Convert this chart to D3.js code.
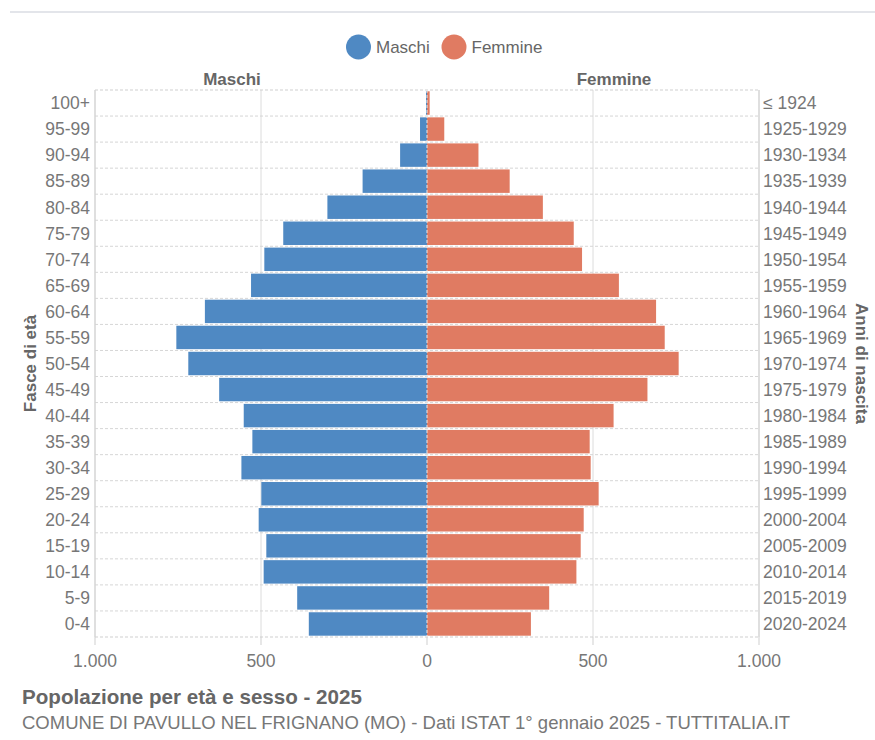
<!DOCTYPE html>
<html lang="it">
<head>
<meta charset="UTF-8">
<script src="https://d3js.org/d3.v7.min.js"></script>
<style>
  body { margin: 0; background: #fff; }
  text { font-family: "Liberation Sans", Arial, sans-serif; }
</style>
</head>
<body>
<svg id="chart" width="875" height="740"></svg>
<script>
// fasce di età (dall'alto in basso)
const fasce = ["100+", "95-99", "90-94", "85-89", "80-84", "75-79", "70-74", "65-69", "60-64", "55-59",
  "50-54", "45-49", "40-44", "35-39", "30-34", "25-29", "20-24", "15-19", "10-14", "5-9", "0-4"];
const anni = ["≤ 1924", "1925-1929", "1930-1934", "1935-1939", "1940-1944", "1945-1949", "1950-1954",
  "1955-1959", "1960-1964", "1965-1969", "1970-1974", "1975-1979", "1980-1984", "1985-1989",
  "1990-1994", "1995-1999", "2000-2004", "2005-2009", "2010-2014", "2015-2019", "2020-2024"];
const maschi = [3, 21, 81, 194, 300, 433, 490, 530, 669, 755, 719, 626, 552, 526, 559, 499, 507, 484, 492, 391, 356];
const femmine = [8, 52, 155, 249, 349, 442, 467, 578, 690, 716, 758, 664, 562, 490, 493, 517, 472, 463, 450, 368, 313];
const xTicks = [-1000, -500, 0, 500, 1000];

const colM = "#4f89c3", colF = "#e07b62";
const W = 875, H = 740;
const m = { top: 90, bottom: 637, left: 95, right: 759 };

const svg = d3.select("#chart");

// linea separatrice in alto
svg.append("line").attr("x1", 10).attr("x2", W).attr("y1", 12).attr("y2", 12)
  .attr("stroke", "#e3e5ea").attr("stroke-width", 2);

const x = d3.scaleLinear().domain([-1000, 1000]).range([m.left, m.right]);
const y = d3.scaleBand().domain(fasce).range([m.top, m.bottom]).paddingInner(0.1).paddingOuter(0.05);
const yRow = d3.scaleBand().domain(fasce).range([m.top, m.bottom]);

// griglia verticale
svg.append("g").selectAll("line").data([-500, 500]).enter().append("line")
  .attr("x1", d => x(d)).attr("x2", d => x(d)).attr("y1", m.top).attr("y2", m.bottom)
  .attr("stroke", "#dcdcdc");

// griglia orizzontale tratteggiata
svg.append("g").selectAll("line").data(fasce.slice(1)).enter().append("line")
  .attr("x1", m.left).attr("x2", m.right)
  .attr("y1", d => yRow(d)).attr("y2", d => yRow(d))
  .attr("stroke", "#d6d6d6").attr("stroke-dasharray", "3,2");

// bordo
svg.append("line").attr("x1", m.left).attr("x2", m.right).attr("y1", m.top).attr("y2", m.top)
  .attr("stroke", "#cfcfcf").attr("stroke-dasharray", "3,2");
svg.append("line").attr("x1", m.left).attr("x2", m.right).attr("y1", m.bottom).attr("y2", m.bottom)
  .attr("stroke", "#cfcfcf").attr("stroke-dasharray", "3,2");
[m.left, m.right].forEach(px => {
  svg.append("line").attr("x1", px).attr("x2", px).attr("y1", m.top).attr("y2", m.bottom)
    .attr("stroke", "#d4d4d4").attr("stroke-width", 1.5);
});

// barre
svg.append("g").selectAll("rect").data(fasce).enter().append("rect")
  .attr("x", (d, i) => x(-maschi[i]))
  .attr("width", (d, i) => x(0) - x(-maschi[i]))
  .attr("y", d => y(d)).attr("height", y.bandwidth())
  .attr("fill", colM);
svg.append("g").selectAll("rect").data(fasce).enter().append("rect")
  .attr("x", x(0))
  .attr("width", (d, i) => x(femmine[i]) - x(0))
  .attr("y", d => y(d)).attr("height", y.bandwidth())
  .attr("fill", colF);

// linea dello zero
svg.append("line").attr("x1", x(0)).attr("x2", x(0)).attr("y1", m.top).attr("y2", m.bottom)
  .attr("stroke", "#e8e8e8").attr("stroke-dasharray", "3,2");

// etichette fasce (sinistra) e anni (destra)
svg.append("g").selectAll("text").data(fasce).enter().append("text")
  .attr("x", m.left - 5).attr("y", d => yRow(d) + yRow.bandwidth() / 2)
  .attr("dy", "0.36em").attr("text-anchor", "end")
  .attr("fill", "#777").style("font-size", "17.5px").text(d => d);
svg.append("g").selectAll("text").data(fasce).enter().append("text")
  .attr("x", m.right + 4).attr("y", d => yRow(d) + yRow.bandwidth() / 2)
  .attr("dy", "0.36em").attr("text-anchor", "start")
  .attr("fill", "#777").style("font-size", "17.5px").text((d, i) => anni[i]);

// asse x
const gx = svg.append("g").attr("transform", `translate(0,${m.bottom})`);
gx.selectAll("line").data(xTicks).enter().append("line")
  .attr("x1", d => x(d)).attr("x2", d => x(d)).attr("y1", 0).attr("y2", 8)
  .attr("stroke", "#cfcfcf");
gx.selectAll("text").data(xTicks).enter().append("text")
  .attr("x", d => x(d)).attr("y", 30).attr("text-anchor", "middle")
  .attr("fill", "#777").style("font-size", "17.5px")
  .text(d => d3.format(",")(Math.abs(d)).replace(",", "."));

// titoli assi
svg.append("text").attr("transform", `translate(36,${(m.top + m.bottom) / 2}) rotate(-90)`)
  .attr("text-anchor", "middle").attr("fill", "#666").style("font-size", "17px")
  .style("font-weight", "bold").text("Fasce di età");
svg.append("text").attr("transform", `translate(856,${(m.top + m.bottom) / 2}) rotate(90)`)
  .attr("text-anchor", "middle").attr("fill", "#666").style("font-size", "17px")
  .style("font-weight", "bold").text("Anni di nascita");

// intestazioni
svg.append("text").attr("x", 232).attr("y", 85).attr("text-anchor", "middle")
  .attr("fill", "#666").style("font-size", "17px").style("font-weight", "bold").text("Maschi");
svg.append("text").attr("x", 614).attr("y", 85).attr("text-anchor", "middle")
  .attr("fill", "#666").style("font-size", "17px").style("font-weight", "bold").text("Femmine");

// legenda
const leg = [["Maschi", colM, 358.5], ["Femmine", colF, 454]];
leg.forEach(([lab, c, cx]) => {
  svg.append("circle").attr("cx", cx).attr("cy", 47).attr("r", 12.5).attr("fill", c);
  svg.append("text").attr("x", cx + 17.5).attr("y", 47).attr("dy", "0.36em")
    .attr("fill", "#666").style("font-size", "17px").text(lab);
});

// titolo e sottotitolo
svg.append("text").attr("x", 22).attr("y", 704).attr("fill", "#666")
  .style("font-size", "20.6px").style("font-weight", "bold").text("Popolazione per età e sesso - 2025");
svg.append("text").attr("x", 22).attr("y", 729).attr("fill", "#777")
  .style("font-size", "18.5px").text("COMUNE DI PAVULLO NEL FRIGNANO (MO) - Dati ISTAT 1° gennaio 2025 - TUTTITALIA.IT");
</script>
</body>
</html>
